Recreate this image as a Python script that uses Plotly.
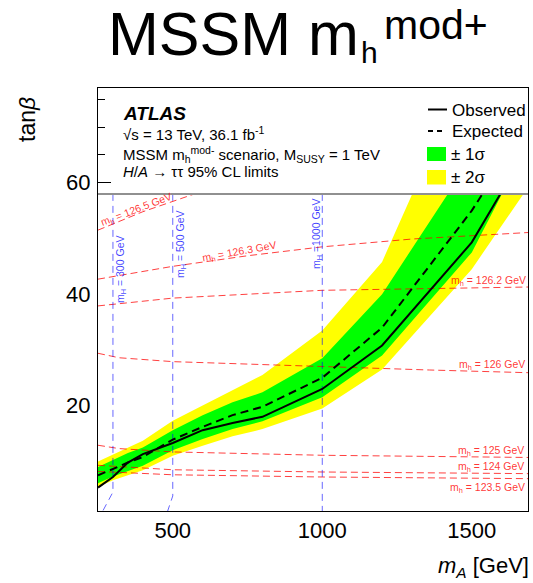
import plotly.graph_objects as go

# ---------------- data ----------------
mA = [250, 300, 350, 400, 500, 600, 700, 800, 1000, 1200, 1500, 1750]
obs = [5.3, 7.2, 9.8, 11.3, 13.3, 15.6, 16.9, 18.0, 23.0, 30.8, 49.3, 72.0]
exp_ = [7.5, 8.7, 9.8, 10.8, 13.9, 16.2, 18.3, 19.8, 25.0, 34.0, 55.0, 76.0]
p1s = [9.0, 10.2, 11.5, 12.5, 15.6, 18.3, 20.6, 22.4, 28.5, 40.0, 64.0, 85.0]
m1s = [6.1, 7.3, 8.3, 9.2, 12.0, 14.0, 15.8, 17.2, 21.5, 29.0, 47.5, 73.5]
p2s = [10.0, 11.2, 12.5, 13.7, 17.3, 20.0, 22.8, 25.5, 33.5, 45.8, 82.0, 100.0]
m2s = [5.4, 6.6, 7.5, 8.4, 11.0, 12.8, 14.5, 15.8, 19.5, 26.5, 44.5, 64.0]

# light Higgs mass contours (m_h)
mh_labels = ["126.5", "126.3", "126.2", "126", "125", "124", "123.5"]
mh_x = [
    [250, 400, 600],
    [250, 500, 750, 1000, 1300, 1700],
    [250, 500, 1000, 1700],
    [250, 320, 500, 1000, 1358, 1700],
    [250, 320, 500, 1000, 1700],
    [250, 500, 1000, 1700],
    [250, 500, 1000, 1700],
]
mh_y = [
    [51.5, 54.8, 58.5],
    [42.7, 45.0, 46.9, 48.5, 49.9, 51.1],
    [37.9, 39.3, 40.7, 41.3],
    [29.4, 28.6, 27.9, 27.0, 26.4, 25.9],
    [12.9, 12.3, 11.7, 11.1, 10.7],
    [9.3, 8.5, 8.1, 7.8],
    [8.2, 7.6, 7.2, 6.9],
]
# heavy Higgs mass contours (m_H)
mH_labels = ["300", "500", "1000"]
mH_x = [[300, 300, 266], [500, 500, 483], [1000, 1000]]
mH_y = [[58, 4.5, 1.1], [58, 3.8, 1.1], [58, 1.1]]

X_RANGE = [250, 1688]
Y_RANGE = [1.1, 77]
Y_CUT = 58

# ---------------- geometry helpers ----------------
W, H = 533, 583
ML, MR, MT, MB = 98, 5, 88, 72
PW, PH = W - ML - MR, H - MT - MB
FONT = "Liberation Sans, Arial, Helvetica, sans-serif"


def xp(px):
    return (px - ML) / PW


def yp(py):
    return (H - MB - py) / PH


fig = go.Figure()


def band(up, lo, color):
    fig.add_trace(go.Scatter(
        x=mA + mA[::-1], y=up + lo[::-1], fill="toself", fillcolor=color,
        mode="lines", line=dict(width=0, color=color), xaxis="x", yaxis="y2",
        hoverinfo="skip", showlegend=False))


band(p2s, m2s, "#ffff00")
band(p1s, m1s, "#00ff00")

for xs, ys in zip(mh_x, mh_y):
    fig.add_trace(go.Scatter(x=xs, y=ys, mode="lines", xaxis="x", yaxis="y2",
                             line=dict(color="rgba(255,0,0,0.75)", width=1, dash="7px,4px"),
                             showlegend=False, hoverinfo="skip"))
for xs, ys in zip(mH_x, mH_y):
    fig.add_trace(go.Scatter(x=xs, y=ys, mode="lines", xaxis="x", yaxis="y2",
                             line=dict(color="rgba(0,0,255,0.6)", width=1, dash="7px,5px"),
                             showlegend=False, hoverinfo="skip"))

fig.add_trace(go.Scatter(x=mA, y=exp_, mode="lines", xaxis="x", yaxis="y2",
                         line=dict(color="black", width=2, dash="8px,5px"), showlegend=False))
fig.add_trace(go.Scatter(x=mA, y=obs, mode="lines", xaxis="x", yaxis="y2",
                         line=dict(color="black", width=2), showlegend=False))

ax_common = dict(showline=True, linecolor="black", linewidth=1, mirror=True,
                 ticks="inside", ticklen=13, tickwidth=1, tickcolor="black",
                 showgrid=False, zeroline=False,
                 tickfont=dict(family=FONT, size=22, color="black"))
x_ticks = dict(tick0=0, dtick=500,
               minor=dict(dtick=100, ticks="inside", ticklen=7, tickcolor="black"))
y_ticks = dict(tick0=0, dtick=20,
               minor=dict(dtick=5, ticks="inside", ticklen=7, tickcolor="black"))

fig.update_layout(
    width=W, height=H, margin=dict(l=ML, r=MR, t=MT, b=MB, autoexpand=False),
    paper_bgcolor="white", plot_bgcolor="white",
    xaxis=dict(range=X_RANGE, domain=[0, 1], anchor="y", ticklabelstandoff=0,
               **x_ticks, **ax_common),
    yaxis=dict(range=Y_RANGE, domain=[0, 1], anchor="x", ticklabelstandoff=2,
               **y_ticks, **ax_common),
    yaxis2=dict(range=[Y_RANGE[0], Y_CUT], anchor="x",
                domain=[0, (Y_CUT - Y_RANGE[0]) / (Y_RANGE[1] - Y_RANGE[0])],
                visible=False, showgrid=False, zeroline=False),
    # mirrored tick axes (top / right) like the ROOT frame
    xaxis2=dict(range=X_RANGE, overlaying="x", anchor="y", side="top",
                showticklabels=False, ticks="inside", ticklen=13, tickcolor="black",
                showgrid=False, zeroline=False, showline=False, **x_ticks),
    yaxis3=dict(range=Y_RANGE, overlaying="y", anchor="x", side="right",
                showticklabels=False, ticks="inside", ticklen=13, tickcolor="black",
                showgrid=False, zeroline=False, showline=False, **y_ticks),
    showlegend=False,
)

fig.add_shape(type="line", xref="paper", yref="y", x0=0, x1=1, y0=Y_CUT, y1=Y_CUT,
              line=dict(color="#909090", width=2))

ann = []


def txt(text, px, py_base, size, anchor="left", color="black", angle=0, yanchor="middle"):
    yc = py_base - 0.3465 * size
    ann.append(dict(text=text, x=xp(px), y=yp(yc), xref="paper", yref="paper",
                    xanchor=anchor, yanchor=yanchor, showarrow=False, textangle=angle,
                    font=dict(family=FONT, size=size, color=color)))


# title
txt("MSSM m", 106, 55, 61)
txt("h", 359, 63, 30)
txt("mod+", 382, 39, 41)

# axis titles
txt("<i>m</i><sub><i>A</i></sub> [GeV]", 531, 575, 22, anchor="right")
ann.append(dict(text="tan<i>β</i>", x=xp(27), y=yp(120), xref="paper", yref="paper",
                xanchor="center", yanchor="middle", showarrow=False, textangle=-90,
                font=dict(family=FONT, size=23, color="black")))

# info text
txt("<b><i>ATLAS</i></b>", 121, 120, 19)
txt("√s = 13 TeV, 36.1 fb<sup>-1</sup>", 121, 139, 15)
txt("MSSM m<sub>h</sub><sup>mod-</sup> scenario, M<sub>SUSY</sub> = 1 TeV", 121, 160, 15)
txt("<i>H</i>/<i>A</i> → ττ 95% CL limits", 121, 177, 15)

# legend
txt("Observed", 450, 116, 17)
txt("Expected", 450, 137, 17)
txt("± 1σ", 449, 160, 17)
txt("± 2σ", 449, 183, 17)
fig.add_shape(type="line", xref="paper", yref="paper", x0=xp(428), x1=xp(447),
              y0=yp(109.5), y1=yp(109.5), line=dict(color="black", width=2))
fig.add_shape(type="line", xref="paper", yref="paper", x0=xp(428), x1=xp(446),
              y0=yp(131), y1=yp(131), line=dict(color="black", width=2, dash="5px,4px"))
fig.add_shape(type="rect", xref="paper", yref="paper", x0=xp(427), x1=xp(446),
              y0=yp(161), y1=yp(147), line=dict(width=0), fillcolor="#00ff00")
fig.add_shape(type="rect", xref="paper", yref="paper", x0=xp(427), x1=xp(446),
              y0=yp(184.5), y1=yp(170), line=dict(width=0), fillcolor="#ffff00")

# contour labels
RED = "rgba(255,0,0,0.8)"
BLUE = "rgba(0,0,255,0.75)"
lab = [("126.5", 136, 210, -21), ("126.3", 239, 252, -10), ("126.2", 488, 281, 0),
       ("126", 492, 365, 0), ("125", 491, 451, 0), ("124", 491, 467, 0),
       ("123.5", 487, 488, 0)]
for v, cx, cy, a in lab:
    ann.append(dict(text=f"m<sub>h</sub> = {v} GeV", x=xp(cx), y=yp(cy), xref="paper",
                    yref="paper", xanchor="center", yanchor="middle", showarrow=False,
                    textangle=a, font=dict(family=FONT, size=10.5, color=RED)))
blab = [("300", 121, 270), ("500", 181, 245), ("1000", 317, 234)]
for v, cx, cy in blab:
    sep = " =" if v == "1000" else " = "
    ann.append(dict(text=f"m<sub>H</sub>{sep}{v} GeV", x=xp(cx), y=yp(cy), xref="paper",
                    yref="paper", xanchor="center", yanchor="middle", showarrow=False,
                    textangle=-90, font=dict(family=FONT, size=10.5, color=BLUE)))

fig.update_layout(annotations=ann)
fig.write_html("out.html")
